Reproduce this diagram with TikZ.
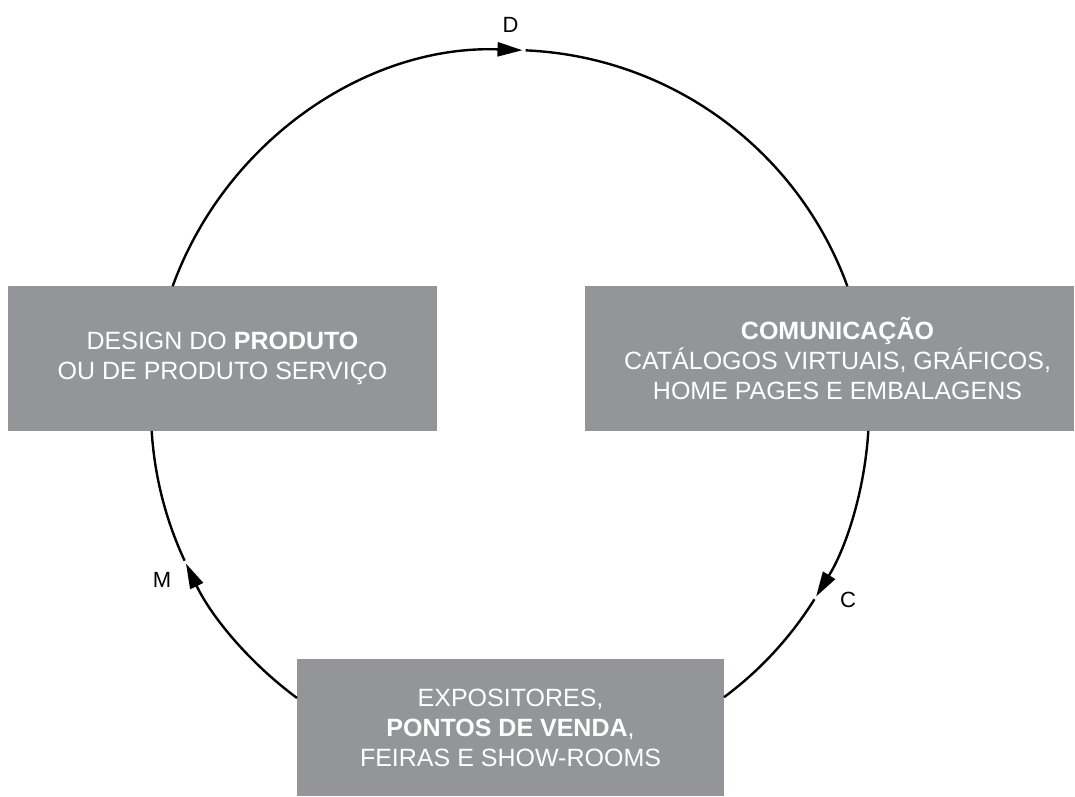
\documentclass[tikz,border=0pt]{standalone}
\usepackage{fontspec}
\setmainfont{Liberation Sans}
\usetikzlibrary{arrows.meta,calc}
\definecolor{boxgray}{RGB}{147,149,152}
\tikzset{
  stage/.style={fill=boxgray, text=white, align=center, inner sep=0pt, font=\fontsize{25}{30}\selectfont},
  cyc/.style={line width=2.4pt},
  cycarrow/.style={cyc, -{Triangle[length=25pt,width=14pt]}},
  letter/.style={font=\fontsize{22}{26}\selectfont}
}
\begin{document}
\begin{tikzpicture}[x=1pt, y=1pt]
    \useasboundingbox (0,0) rectangle (1075,796);
    \node[stage, minimum width=429pt, minimum height=145pt] (produto) at (222.5,437.5) {DESIGN DO \textbf{PRODUTO}\\OU DE PRODUTO SERVIÇO};
    \node[stage, minimum width=489pt, minimum height=145pt] (comunicacao) at (829.5,437.5) {\hspace*{16pt}\textbf{COMUNICAÇÃO}\\\hspace*{16pt}CATÁLOGOS VIRTUAIS, GRÁFICOS,\\\hspace*{16pt}HOME PAGES E EMBALAGENS};
    \node[stage, minimum width=427pt, minimum height=137pt] (venda) at (510.5,68.5) {EXPOSITORES,\\\textbf{PONTOS DE VENDA},\\FEIRAS E SHOW-ROOMS};
    \coordinate (centre) at (510,387);
    % top: produto -> D -> comunicacao
    \draw[cycarrow] ($(centre)+(160:359)$) arc[start angle=160, end angle=88, radius=359] coordinate (dtip);
    \draw[cyc] ($(centre)+(87.5:359)$) arc[start angle=87.5, end angle=20, radius=359];
    % right: comunicacao -> C -> venda
    \draw[cycarrow] ($(centre)+(-3.5:359)$) arc[start angle=-3.5, end angle=-31.5, radius=359] coordinate (ctip);
    \draw[cyc] ($(centre)+(-32:359)$) arc[start angle=-32, end angle=-53.4, radius=359];
    % left: venda -> M -> produto
    \draw[cycarrow] ($(centre)+(233.6:359)$) arc[start angle=233.6, end angle=205.5, radius=359] coordinate (mtip);
    \draw[cyc] ($(centre)+(205:359)$) arc[start angle=205, end angle=183.5, radius=359];
    \node[letter] (dlabel) at (510.5,771.5) {D};
    \node[letter] (clabel) at (848,196) {C};
    \node[letter] (mlabel) at (162,216) {M};
\end{tikzpicture}
\end{document}
